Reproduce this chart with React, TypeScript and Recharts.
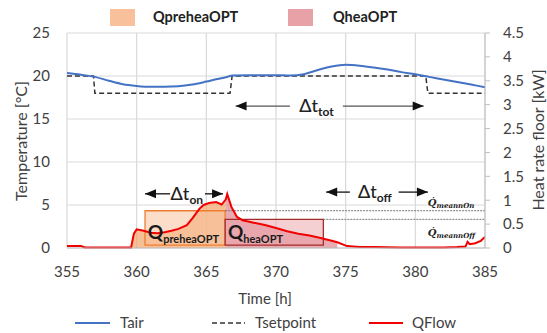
import React from 'react';
import {
  ComposedChart,
  Line,
  Area,
  XAxis,
  YAxis,
  CartesianGrid,
  ReferenceArea,
  ReferenceLine,
  ReferenceDot,
} from 'recharts';

const timeTicks = [355, 360, 365, 370, 375, 380, 385];
const tempTicks = [0, 5, 10, 15, 20, 25];
const heatTicks = [0, 0.5, 1, 1.5, 2, 2.5, 3, 3.5, 4, 4.5];

// Air temperature [°C]
const tairTime = [355, 356, 357, 358, 359, 360, 361, 362, 363, 364, 365, 365.8, 366.4, 366.9, 368, 370, 371, 372, 373, 374, 375, 376, 377, 378, 379, 380, 381, 382, 383, 384, 385];
const tairValue = [20.35, 20.15, 19.9, 19.45, 19.05, 18.85, 18.75, 18.75, 18.8, 19.0, 19.35, 19.65, 19.85, 20.05, 20.1, 20.1, 20.05, 20.2, 20.7, 21.1, 21.3, 21.2, 21.0, 20.75, 20.45, 20.2, 19.9, 19.6, 19.3, 19.0, 18.7];

// Setpoint [°C]
const tsetTime = [355, 356.9, 357.0, 366.7, 366.85, 380.75, 380.9, 385];
const tsetValue = [20, 20, 18, 18, 20, 20, 18, 18];

// Heat flow to floor [kW]
const qTime = [355, 356, 356.3, 359.6, 359.8, 360.0, 360.5, 361.0, 361.5, 362.0, 362.5, 363.0, 363.6, 364.0, 364.5, 364.8, 365.2, 365.7, 366.1, 366.4, 366.5, 366.8, 367.2, 367.6, 368.4, 369.2, 370.0, 370.8, 371.6, 372.4, 373.2, 374.0, 374.4, 375.1, 376.0, 377.0, 378.0, 379.0, 380.0, 381.0, 382.0, 383.0, 383.6, 383.75, 383.9, 384.3, 384.7, 385];
const qValue = [0.04, 0.04, 0.01, 0.01, 0.3, 0.39, 0.36, 0.32, 0.31, 0.33, 0.36, 0.4, 0.48, 0.62, 0.82, 0.9, 0.94, 0.96, 0.91, 1.02, 1.13, 0.86, 0.65, 0.58, 0.53, 0.48, 0.42, 0.35, 0.3, 0.26, 0.21, 0.15, 0.12, 0.04, 0.02, 0.02, 0.015, 0.01, 0.01, 0.01, 0.01, 0.02, 0.03, 0.13, 0.08, 0.1, 0.15, 0.23];

const preheatWindow = [360.6, 366.35];
const heatWindow = [366.35, 373.4];
const preheatFill = [359.6, 366.4];
const heatFill = [366.4, 374.4];
const qMeanOn = 0.78;
const qMeanOff = 0.6;
const qBoxBottom = 0.06;

const tairData = tairTime.map((t, i) => ({ t, tair: tairValue[i] }));
const tsetData = tsetTime.map((t, i) => ({ t, tset: tsetValue[i] }));
const qData = qTime.map((t, i) => ({ t, q: qValue[i] }));
const preheatData = qData.filter((d) => d.t >= preheatFill[0] && d.t <= preheatFill[1]);
const heatData = qData.filter((d) => d.t >= heatFill[0] && d.t <= heatFill[1]);

const FONT = 'Lato, "Open Sans", sans-serif';
const TEXT = '#404040';

function arrow(head: 'start' | 'end', color = '#111') {
  return (p: any) => {
    const { x1, y1, x2, y2 } = p;
    const hx = head === 'start' ? x1 : x2;
    const dir = head === 'start' ? 1 : -1;
    const len = 11;
    return (
      <g>
        <line x1={x1} y1={y1} x2={x2} y2={y2} stroke={color} strokeWidth={1.3} />
        <polygon
          points={`${hx},${y1} ${hx + dir * len},${y1 - 4.5} ${hx + dir * len},${y1 + 4.5}`}
          fill="#111"
        />
      </g>
    );
  };
}

function deltaLabel(sub: string) {
  return (p: any) => (
    <text x={p.cx} y={p.cy + 6} textAnchor="middle" fontFamily={FONT} fill="#222" fontWeight={500}>
      <tspan fontSize={18}>Δt</tspan>
      <tspan fontSize={12} fontWeight={700} dy={4}>{sub}</tspan>
    </text>
  );
}

function qLabel(sub: string) {
  return (p: any) => (
    <text x={p.cx} y={p.cy} fontFamily={FONT} fill="#1a1a1a" fontWeight={700}>
      <tspan fontSize={19}>Q</tspan>
      <tspan fontSize={11} dy={4}>{sub}</tspan>
    </text>
  );
}

function meanLabel(sub: string) {
  return (p: any) => (
    <text x={p.cx} y={p.cy} fontFamily='"DejaVu Serif", serif' fontStyle="italic" fill="#222" fontWeight={700}>
      <tspan fontSize={10}>Q̇</tspan>
      <tspan fontSize={7} dy={2}>{sub}</tspan>
    </text>
  );
}

export default function App() {
  return (
    <div style={{ position: 'absolute', left: 0, top: 0, width: 547, height: 333, fontFamily: FONT, background: 'white' }}>
      {/* top legend */}
      <div style={{ position: 'absolute', left: 110, top: 9, width: 25, height: 17, background: '#f8c19c' }} />
      <div style={{ position: 'absolute', left: 153, top: 8, fontSize: 14.5, fontWeight: 700, color: '#222' }}>QpreheaOPT</div>
      <div style={{ position: 'absolute', left: 288, top: 9, width: 25, height: 17, background: '#e9a1a8' }} />
      <div style={{ position: 'absolute', left: 333, top: 8, fontSize: 14.5, fontWeight: 700, color: '#222' }}>QheaOPT</div>

      <ComposedChart width={547} height={333} margin={{ top: 33, right: 0, left: 0, bottom: 0 }}>
        <CartesianGrid stroke="#d9d9d9" strokeWidth={1.2} yAxisId="left" />
        <XAxis
          dataKey="t"
          type="number"
          domain={[355, 385]}
          ticks={timeTicks}
          allowDataOverflow
          height={85}
          tickLine={false}
          tickMargin={12}
          axisLine={{ stroke: '#bfbfbf' }}
          tick={{ fill: TEXT, fontSize: 15, fontFamily: FONT }}
        />
        <YAxis
          yAxisId="left"
          domain={[0, 25]}
          ticks={tempTicks}
          width={67}
          axisLine={false}
          tickLine={false}
          tickMargin={11}
          tick={{ fill: TEXT, fontSize: 15, fontFamily: FONT }}
        />
        <YAxis
          yAxisId="right"
          orientation="right"
          domain={[0, 4.5]}
          ticks={heatTicks}
          width={62}
          axisLine={{ stroke: '#bfbfbf' }}
          tickLine={{ stroke: '#bfbfbf' }}
          tickSize={5}
          tickMargin={13}
          tick={{ fill: TEXT, fontSize: 15, fontFamily: FONT }}
        />

        <Area
          yAxisId="right"
          data={preheatData}
          dataKey="q"
          type="linear"
          stroke="none"
          fill="#f4a46a"
          fillOpacity={0.7}
          isAnimationActive={false}
        />
        <Area
          yAxisId="right"
          data={heatData}
          dataKey="q"
          type="linear"
          stroke="none"
          fill="#e08891"
          fillOpacity={0.7}
          isAnimationActive={false}
        />

        <ReferenceArea
          yAxisId="right"
          x1={preheatWindow[0]}
          x2={preheatWindow[1]}
          y1={qBoxBottom}
          y2={qMeanOn}
          fill="#f8c19c"
          fillOpacity={0.55}
          stroke="#ed7d31"
          strokeWidth={1.3}
        />
        <ReferenceArea
          yAxisId="right"
          x1={heatWindow[0]}
          x2={heatWindow[1]}
          y1={qBoxBottom}
          y2={qMeanOff}
          fill="#e9a1a8"
          fillOpacity={0.5}
          stroke="#a52a2a"
          strokeWidth={1.3}
        />
        <ReferenceLine
          yAxisId="right"
          segment={[{ x: preheatWindow[1], y: qMeanOn }, { x: 385, y: qMeanOn }]}
          stroke="#777"
          strokeDasharray="2 1"
        />
        <ReferenceLine
          yAxisId="right"
          segment={[{ x: heatWindow[1], y: qMeanOff }, { x: 385, y: qMeanOff }]}
          stroke="#777"
          strokeDasharray="2 1"
        />

        <Line
          yAxisId="left"
          data={tsetData}
          dataKey="tset"
          type="linear"
          stroke="#333"
          strokeWidth={1.5}
          strokeDasharray="5 3"
          dot={false}
          isAnimationActive={false}
        />
        <Line
          yAxisId="left"
          data={tairData}
          dataKey="tair"
          type="monotone"
          stroke="#4472c4"
          strokeWidth={2}
          dot={false}
          isAnimationActive={false}
        />
        <Line
          yAxisId="right"
          data={qData}
          dataKey="q"
          type="linear"
          stroke="#f20000"
          strokeWidth={2}
          dot={false}
          isAnimationActive={false}
        />

        {/* Δt annotations */}
        <ReferenceLine yAxisId="left" segment={[{ x: 360.6, y: 6.3 }, { x: 362.4, y: 6.3 }]} shape={arrow('start')} />
        <ReferenceLine yAxisId="left" segment={[{ x: 364.9, y: 6.3 }, { x: 366.2, y: 6.3 }]} shape={arrow('end')} />
        <ReferenceDot yAxisId="left" x={363.6} y={6.3} r={0} shape={deltaLabel('on')} />

        <ReferenceLine yAxisId="left" segment={[{ x: 367.1, y: 16.5 }, { x: 371.0, y: 16.5 }]} shape={arrow('start', '#555')} />
        <ReferenceLine yAxisId="left" segment={[{ x: 374.8, y: 16.5 }, { x: 380.6, y: 16.5 }]} shape={arrow('end', '#555')} />
        <ReferenceDot yAxisId="left" x={372.9} y={16.5} r={0} shape={deltaLabel('tot')} />

        <ReferenceLine yAxisId="left" segment={[{ x: 373.6, y: 6.5 }, { x: 375.3, y: 6.5 }]} shape={arrow('start')} />
        <ReferenceLine yAxisId="left" segment={[{ x: 378.8, y: 6.5 }, { x: 380.9, y: 6.5 }]} shape={arrow('end')} />
        <ReferenceDot yAxisId="left" x={377.1} y={6.5} r={0} shape={deltaLabel('off')} />

        <ReferenceDot yAxisId="left" x={360.8} y={1.05} r={0} shape={qLabel('preheaOPT')} />
        <ReferenceDot yAxisId="left" x={366.55} y={1.05} r={0} shape={qLabel('heaOPT')} />

        <ReferenceDot yAxisId="right" x={380.9} y={0.88} r={0} shape={meanLabel('meannOn')} />
        <ReferenceDot yAxisId="right" x={380.9} y={0.26} r={0} shape={meanLabel('meannOff')} />
      </ComposedChart>

      {/* axis titles */}
      <div
        style={{
          position: 'absolute', left: 20, top: 141, transform: 'translate(-50%, -50%) rotate(-90deg)',
          fontSize: 16, color: TEXT, whiteSpace: 'nowrap',
        }}
      >
        Temperature [°C]
      </div>
      <div
        style={{
          position: 'absolute', left: 537, top: 140, transform: 'translate(-50%, -50%) rotate(-90deg)',
          fontSize: 16, color: TEXT, whiteSpace: 'nowrap',
        }}
      >
        Heat rate floor [kW]
      </div>
      <div style={{ position: 'absolute', left: 265, top: 298, transform: 'translate(-50%, -50%)', fontSize: 15, color: TEXT }}>
        Time [h]
      </div>

      {/* bottom legend */}
      <svg style={{ position: 'absolute', left: 0, top: 314 }} width={547} height={19}>
        <line x1={75} x2={110} y1={9} y2={9} stroke="#4472c4" strokeWidth={2} />
        <line x1={212} x2={245} y1={9} y2={9} stroke="#333" strokeWidth={1.5} strokeDasharray="5 3" />
        <line x1={369} x2={403} y1={9} y2={9} stroke="#f20000" strokeWidth={2} />
        <text x={120} y={14} fontSize={15} fill={TEXT} fontFamily={FONT}>Tair</text>
        <text x={255} y={14} fontSize={15} fill={TEXT} fontFamily={FONT}>Tsetpoint</text>
        <text x={412} y={14} fontSize={15} fill={TEXT} fontFamily={FONT}>QFlow</text>
      </svg>
    </div>
  );
}
